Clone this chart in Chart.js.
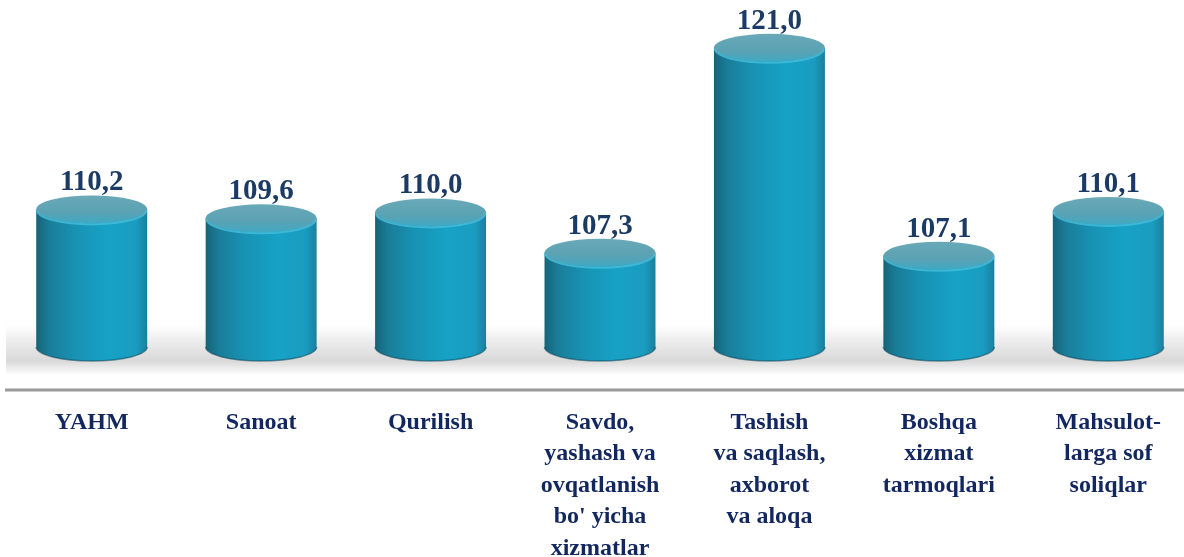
<!DOCTYPE html>
<html>
<head>
<meta charset="utf-8">
<script src="https://cdn.jsdelivr.net/npm/chart.js@4"></script>
<style>
    html, body { margin: 0; padding: 0; background: #fff; overflow: hidden; }
    canvas { display: block; }
</style>
</head>
<body>
<canvas id="chart" width="1194" height="557"></canvas>
<script>
// 分類名稱（多行）
const categories = [
    ['YAHM'],
    ['Sanoat'],
    ['Qurilish'],
    ['Savdo,', 'yashash va', 'ovqatlanish', "bo' yicha", 'xizmatlar'],
    ['Tashish', 'va saqlash,', 'axborot', 'va aloqa'],
    ['Boshqa', 'xizmat', 'tarmoqlari'],
    ['Mahsulot-', 'larga sof', 'soliqlar']
];
// 數值
const values = [110.2, 109.6, 110.0, 107.3, 121.0, 107.1, 110.1];
// 軸範圍
const axisMin = 101;
const axisMax = 124.2;

const serif = '"Liberation Serif", "Times New Roman", serif';

// 圓柱繪製插件
const cylinderPlugin = {
    id: 'cylinders',
    beforeDatasetsDraw(chart) {
        const ctx = chart.ctx;
        const area = chart.chartArea;
        ctx.save();
        // 地面陰影帶
        const top = area.bottom - 22, bottom = area.bottom + 28;
        const g = ctx.createLinearGradient(0, top, 0, bottom);
        g.addColorStop(0, 'rgba(0,0,0,0)');
        g.addColorStop(0.4, 'rgba(0,0,0,0.09)');
        g.addColorStop(0.72, 'rgba(0,0,0,0.15)');
        g.addColorStop(1, 'rgba(0,0,0,0)');
        ctx.fillStyle = g;
        ctx.fillRect(6, top, chart.width, bottom - top);
        // 軸線
        ctx.strokeStyle = '#9a9a9a';
        ctx.lineWidth = 3;
        ctx.beginPath();
        ctx.moveTo(5, 390);
        ctx.lineTo(chart.width, 390);
        ctx.stroke();
        ctx.restore();
    },
    afterDatasetsDraw(chart) {
        const ctx = chart.ctx;
        const meta = chart.getDatasetMeta(0);
        const base = chart.scales.y.getPixelForValue(axisMin);
        const ry = 14;
        ctx.save();
        meta.data.forEach((bar, i) => {
            const { x, y, width } = bar.getProps(['x', 'y', 'width'], true);
            const rx = width / 2;
            const left = x - rx, right = x + rx;

            // 圓柱側面
            const side = ctx.createLinearGradient(left, 0, right, 0);
            side.addColorStop(0, '#166478');
            side.addColorStop(0.12, '#1a7d99');
            side.addColorStop(0.35, '#1892b3');
            side.addColorStop(0.65, '#16a2c6');
            side.addColorStop(0.9, '#1a9cc0');
            side.addColorStop(1, '#1b7f9c');
            ctx.beginPath();
            ctx.moveTo(left, y);
            ctx.lineTo(left, base);
            ctx.ellipse(x, base, rx, ry, 0, Math.PI, 0, true);
            ctx.lineTo(right, y);
            ctx.closePath();
            ctx.fillStyle = side;
            ctx.fill();

            // 底部暗邊
            ctx.beginPath();
            ctx.ellipse(x, base, rx, ry, 0, Math.PI, 0, true);
            ctx.strokeStyle = 'rgba(10,70,90,0.55)';
            ctx.lineWidth = 1.5;
            ctx.stroke();

            // 頂面
            const topG = ctx.createLinearGradient(0, y - ry, 0, y + ry);
            topG.addColorStop(0, '#6aa9b8');
            topG.addColorStop(0.6, '#5aa2b3');
            topG.addColorStop(1, '#3fa9c4');
            ctx.beginPath();
            ctx.ellipse(x, y, rx, ry, 0, 0, Math.PI * 2);
            ctx.fillStyle = topG;
            ctx.fill();
            // 頂面前緣亮邊
            ctx.beginPath();
            ctx.ellipse(x, y + 1, rx - 1, ry, 0, 0, Math.PI, false);
            ctx.strokeStyle = 'rgba(70,190,220,0.8)';
            ctx.lineWidth = 2;
            ctx.stroke();

            // 數值標籤
            ctx.font = 'bold 29px ' + serif;
            ctx.fillStyle = '#1b3a64';
            ctx.textAlign = 'center';
            ctx.textBaseline = 'alphabetic';
            ctx.fillText(values[i].toFixed(1).replace('.', ','), x, y - ry - 5);
        });
        ctx.restore();
    }
};

const ctx = document.getElementById('chart').getContext('2d');
new Chart(ctx, {
    type: 'bar',
    data: {
        labels: categories,
        datasets: [{
            data: values,
            backgroundColor: 'rgba(0,0,0,0)',
            borderWidth: 0,
            barPercentage: 0.655,
            categoryPercentage: 1
        }]
    },
    options: {
        responsive: false,
        animation: false,
        layout: { padding: { left: 7, right: 1, top: 0, bottom: 0 } },
        plugins: {
            legend: { display: false },
            tooltip: { enabled: false }
        },
        scales: {
            x: {
                grid: { display: false, drawTicks: false },
                border: { display: false },
                ticks: {
                    color: '#12275f',
                    font: { family: serif, size: 24, weight: 'bold', lineHeight: 1.31 },
                    padding: 60,
                    maxRotation: 0,
                    autoSkip: false
                },
                afterFit(scale) {
                    scale.height = 210;
                    scale.paddingLeft = 0;
                    scale.paddingRight = 0;
                }
            },
            y: {
                display: false,
                min: axisMin,
                max: axisMax
            }
        }
    },
    plugins: [cylinderPlugin]
});
</script>
</body>
</html>
